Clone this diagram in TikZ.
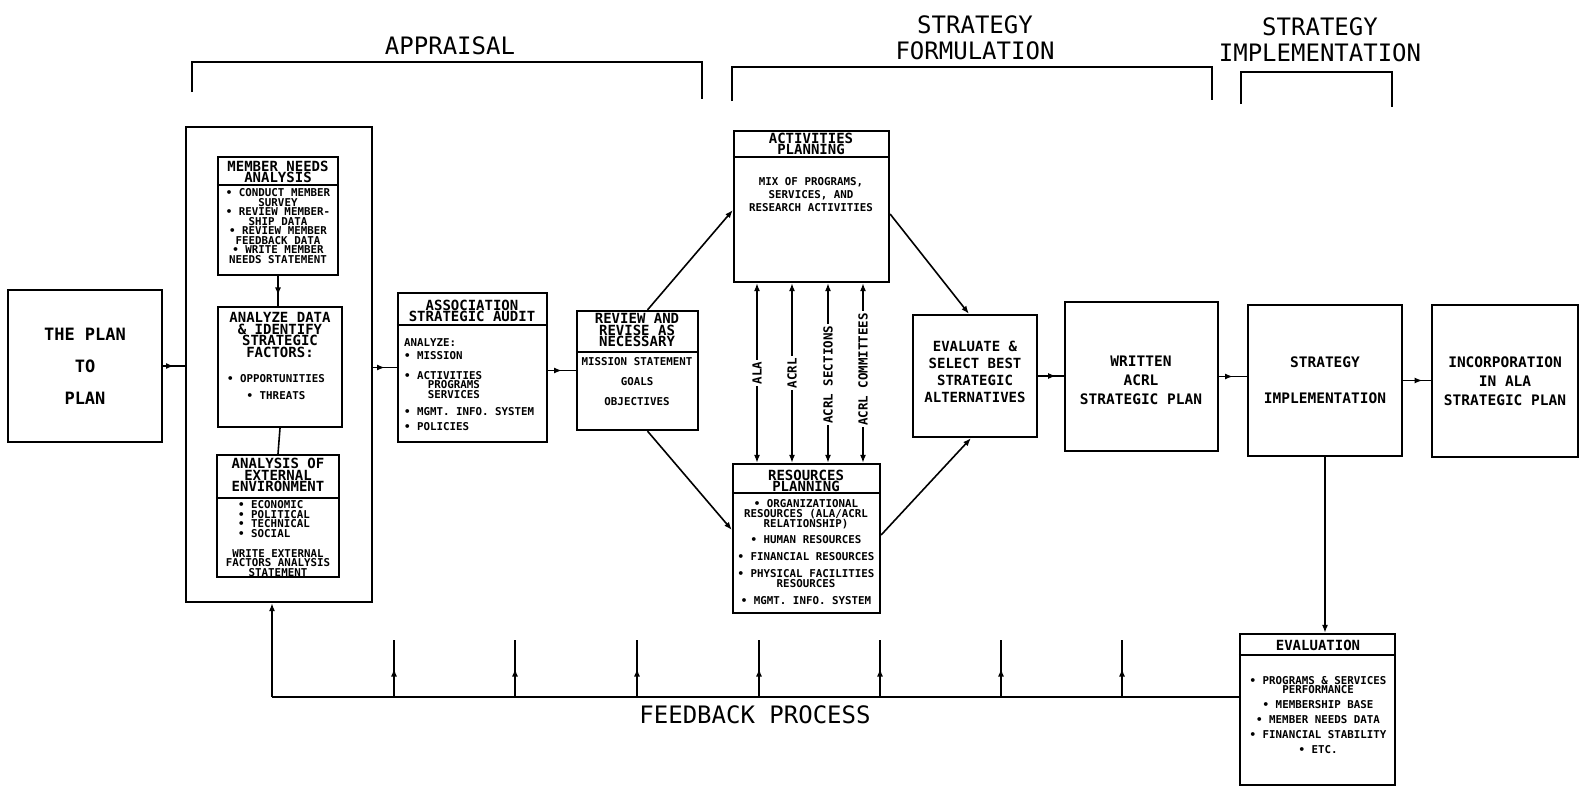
\documentclass[tikz,border=0pt]{standalone}
\usepackage{fontspec}
\setmainfont{DejaVu Sans Mono}
\usetikzlibrary{positioning}
\usetikzlibrary{calc}
\usetikzlibrary{fit}
\usetikzlibrary{arrows.meta}
\usetikzlibrary{decorations.markings}

\begin{document}
\begin{tikzpicture}[
    x=1pt, y=-1pt,
    box/.style={draw, line width=2.2pt, inner sep=0pt},
    divider/.style={line width=1.6pt},
    link/.style={line width=1.6pt},
    tip/.style={-{Latex[length=8pt,width=6pt]}},
    midarrow/.style={
        postaction={decorate},
        decoration={markings, mark=at position #1 with {\arrow{Latex[length=8pt,width=6pt]}}}
    },
    midarrow/.default=0.5,
    phase/.style={font=\fontsize{24}{26}\selectfont, align=center},
    head/.style={font=\fontsize{14}{11.5}\selectfont\bfseries, align=center, inner sep=0pt},
    body/.style={font=\fontsize{10.8}{9.5}\selectfont\bfseries, align=center, inner sep=0pt},
    big/.style={font=\fontsize{14.5}{19}\selectfont\bfseries, align=center, inner sep=0pt},
    strand/.style={font=\fontsize{12.5}{12}\selectfont\bfseries, rotate=90, fill=white, inner sep=1.5pt}
]

    \useasboundingbox (0,0) rectangle (1583,787);

    % Phases
    \node[phase] (appraisal) at (450,46) {APPRAISAL};
    \node[phase] (formulation) at (975,38) {STRATEGY\\FORMULATION};
    \node[phase] (implementation) at (1320,40) {STRATEGY\\IMPLEMENTATION};

    \draw[line width=2.2pt] (192,92) |- (702,62) -- (702,99);
    \draw[line width=2.2pt] (732,101) |- (1212,67) -- (1212,100);
    \draw[line width=2.2pt] (1241,104) |- (1392,72) -- (1392,107);

    % The plan to plan
    \node[box, fit={(8,290) (162,442)}] (plan) {};
    \node[font=\fontsize{17}{32}\selectfont\bfseries, align=center] (plantxt) at (plan.center) {THE PLAN\\TO\\PLAN};

    % Appraisal
    \node[box, fit={(186,127) (372,602)}] (frame) {};

    \node[box, fit={(218,157) (338,275)}] (mna) {};
    \node[head] (mnahead) at (278,172) {MEMBER NEEDS\\ANALYSIS};
    \draw[divider] (mna.west |- 0,185) -- (mna.east |- 0,185);
    \node[body] (mnabody) at (278,226) {• CONDUCT MEMBER\\SURVEY\\• REVIEW MEMBER-\\SHIP DATA\\• REVIEW MEMBER\\FEEDBACK DATA\\• WRITE MEMBER\\NEEDS STATEMENT};

    \node[box, fit={(218,307) (342,427)}] (adi) {};
    \node[head] (adihead) at (280,335) {ANALYZE DATA\\\& IDENTIFY\\STRATEGIC\\FACTORS:};
    \node[body] (adibody) at (276,387) {• OPPORTUNITIES\\[7.5pt]• THREATS};

    \node[box, fit={(217,455) (339,577)}] (ext) {};
    \node[head] (exthead) at (278,475) {ANALYSIS OF\\EXTERNAL\\ENVIRONMENT};
    \draw[divider] (ext.west |- 0,498) -- (ext.east |- 0,498);
    \node[body, align=left] (extlist) at (274,519) {• ECONOMIC\\• POLITICAL\\• TECHNICAL\\• SOCIAL};
    \node[body] (extstmt) at (278,563) {WRITE EXTERNAL\\FACTORS ANALYSIS\\STATEMENT};

    \node[box, fit={(398,293) (547,442)}] (audit) {};
    \node[head] (audithead) at (472,311) {ASSOCIATION\\STRATEGIC AUDIT};
    \draw[divider] (audit.west |- 0,325) -- (audit.east |- 0,325);
    \node[body, align=left, anchor=north west] (auditbody) at (404,338) {ANALYZE:\\[3.5pt]• MISSION\\[10.5pt]• ACTIVITIES\\\hspace*{2.2em}PROGRAMS\\\hspace*{2.2em}SERVICES\\[7.5pt]• MGMT. INFO. SYSTEM\\[5.5pt]• POLICIES};

    \node[box, fit={(577,311) (698,430)}] (rev) {};
    \node[head] (revhead) at (637,330) {REVIEW AND\\REVISE AS\\NECESSARY};
    \draw[divider] (rev.west |- 0,352) -- (rev.east |- 0,352);
    \node[body] (revbody) at (637,382) {MISSION STATEMENT\\[10.5pt]GOALS\\[10.5pt]OBJECTIVES};

    % Formulation
    \node[box, fit={(734,131) (889,282)}] (act) {};
    \node[head] (acthead) at (811,144) {ACTIVITIES\\PLANNING};
    \draw[divider] (act.west |- 0,157) -- (act.east |- 0,157);
    \node[body] (actbody) at (811,195) {MIX OF PROGRAMS,\\[2.5pt]SERVICES, AND\\[2.5pt]RESEARCH ACTIVITIES};

    \node[box, fit={(733,464) (880,613)}] (res) {};
    \node[head] (reshead) at (806,481) {RESOURCES\\PLANNING};
    \draw[divider] (res.west |- 0,493) -- (res.east |- 0,493);
    \node[body] (resbody) at (806,552) {• ORGANIZATIONAL\\RESOURCES (ALA/ACRL\\RELATIONSHIP)\\[6.5pt]• HUMAN RESOURCES\\[7.5pt]• FINANCIAL RESOURCES\\[7.5pt]• PHYSICAL FACILITIES\\RESOURCES\\[7.5pt]• MGMT. INFO. SYSTEM};

    \node[box, fit={(913,315) (1037,437)}] (esb) {};
    \node[big, font=\fontsize{14}{17}\selectfont\bfseries] (esbtxt) at (975,372) {EVALUATE \&\\SELECT BEST\\STRATEGIC\\ALTERNATIVES};

    \node[box, fit={(1065,302) (1218,451)}] (wr) {};
    \node[big] (wrtxt) at (1141,380) {WRITTEN\\ACRL\\STRATEGIC PLAN};

    % Implementation
    \node[box, fit={(1248,305) (1402,456)}] (impl) {};
    \node[big, font=\fontsize{14.5}{36}\selectfont\bfseries] (impltxt) at (1325,380) {STRATEGY\\IMPLEMENTATION};

    \node[box, fit={(1432,305) (1578,457)}] (inc) {};
    \node[big] (inctxt) at (1505,381) {INCORPORATION\\IN ALA\\STRATEGIC PLAN};

    \node[box, fit={(1240,634) (1395,785)}] (eval) {};
    \node[head] (evalhead) at (1318,645) {EVALUATION};
    \draw[divider] (eval.west |- 0,655) -- (eval.east |- 0,655);
    \node[body] (evalbody) at (1318,715) {• PROGRAMS \& SERVICES\\PERFORMANCE\\[5.5pt]• MEMBERSHIP BASE\\[5.5pt]• MEMBER NEEDS DATA\\[5.5pt]• FINANCIAL STABILITY\\[5.5pt]• ETC.};

    % Flow
    \draw[link, midarrow] (plan.east) -- (plan.east -| frame.west);
    \draw[link, midarrow] (frame.east |- audit) -- (audit.west);
    \draw[link, midarrow] (audit.east |- rev) -- (rev.west);
    \draw[link, midarrow=.65] (mna.south) -- (mna.south |- adi.north);
    \draw[link] (adi.south) -- (ext.north);

    \draw[link, tip] ([xshift=10pt]rev.north) -- (act.west |- 0,210);
    \draw[link, tip] ([xshift=10pt]rev.south) -- (res.west |- 0,530);
    \draw[link, tip] (act.east |- 0,214) -- ([xshift=-6pt]esb.north);
    \draw[link, tip] (res.east |- 0,535) -- ([xshift=-4pt]esb.south);

    \foreach \ax/\lbl/\p in {757/ALA/.5, 792/ACRL/.5, 828/ACRL SECTIONS/.51, 863/ACRL COMMITTEES/.48} {
        \draw[link, {Latex[length=8pt,width=6pt]}-{Latex[length=8pt,width=6pt]}]
            (act.south -| \ax,0) -- node[strand, pos=\p] (strand\ax) {\lbl} (res.north -| \ax,0);
    }

    \draw[link, midarrow=.7] (esb.east) -- (esb.east -| wr.west);
    \draw[link, midarrow] (wr.east) -- (wr.east -| impl.west);
    \draw[link, midarrow=.7] (impl.east) -- (impl.east -| inc.west);
    \draw[link, tip] (impl.south) -- (impl.south |- eval.north);

    % Feedback
    \coordinate (fbl) at (272,697);
    \draw[link] (eval.west |- fbl) -- (fbl);
    \draw[link, tip] (fbl) -- (frame.south -| fbl);
    \foreach \t [count=\i] in {394,515,637,759,880,1001,1122} {
        \coordinate (tick\i) at (\t,640);
        \draw[link, midarrow] (tick\i |- fbl) -- (tick\i);
    }
    \node[phase] (feedback) at (755,715) {FEEDBACK PROCESS};

\end{tikzpicture}
\end{document}
